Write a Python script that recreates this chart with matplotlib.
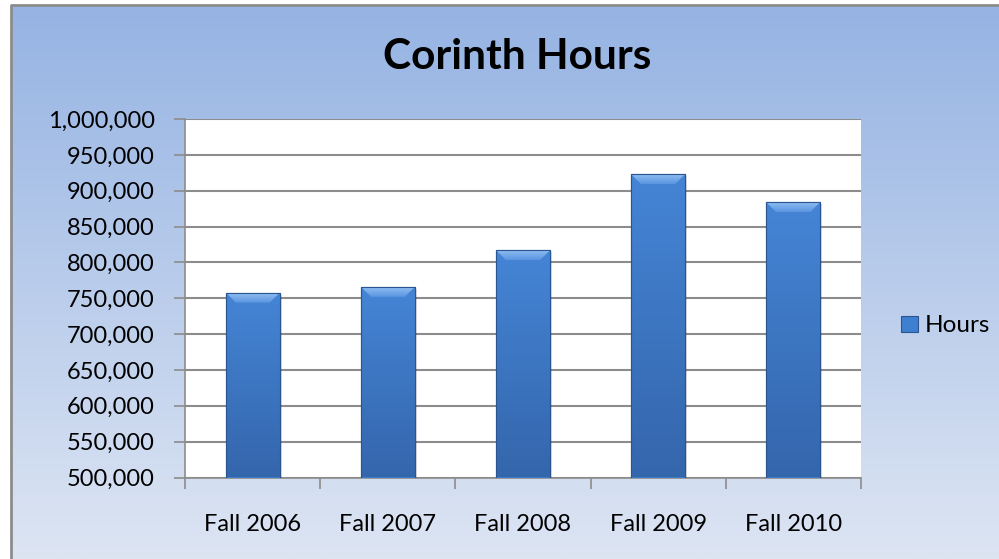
import matplotlib
matplotlib.use("Agg")
import matplotlib.pyplot as plt
import numpy as np
from matplotlib.patches import Polygon, Rectangle
from matplotlib.ticker import FuncFormatter, MultipleLocator
from matplotlib.colors import LinearSegmentedColormap

categories = ["Fall 2006", "Fall 2007", "Fall 2008", "Fall 2009", "Fall 2010"]
hours = [758000, 766000, 817000, 923000, 884000]
series_name = "Hours"
title = "Corinth Hours"
y_min, y_max, y_step = 500000, 1000000, 50000

W, H = 999, 559
fig = plt.figure(figsize=(W / 100, H / 100), dpi=100)
plt.rcParams['font.family'] = ['Lato', 'DejaVu Sans']

# background gradient panel with border
bg = fig.add_axes([0, 0, 1, 1], zorder=-10)
bg.set_axis_off()
bg.set_xlim(0, W)
bg.set_ylim(H, 0)
grad = np.linspace(0, 1, 256).reshape(-1, 1)
bg_cmap = LinearSegmentedColormap.from_list("bg", ["#95B3E3", "#DDE5F3"])
bg.imshow(grad, cmap=bg_cmap, extent=[11, W, H, 5], aspect="auto", zorder=0)
bg.plot([11, 11, W], [H, 5, 5], color="#8C8C8C", lw=2, zorder=1)

# plot area
ax = fig.add_axes([185.3 / W, 1 - 477.5 / H, (860.7 - 185.3) / W, (477.5 - 119) / H])
ax.set_facecolor("white")
x = np.arange(len(categories))
bars = ax.bar(x, hours, width=0.4, bottom=0, color="#3F7FCF", edgecolor="#2A5590",
              linewidth=0.8, zorder=3)
ax.set_xlim(-0.5, len(categories) - 0.5)
ax.set_ylim(y_min, y_max)

# bar gradients and bevel
bar_cmap = LinearSegmentedColormap.from_list("bar", ["#4585D6", "#3466AC"])
bevel_cmap = LinearSegmentedColormap.from_list("bevel", ["#8FBDF2", "#5A95E0"])
px_y = (y_max - y_min) / (477.5 - 119)
px_x = len(categories) / (860.7 - 185.3)
for b in bars:
    x0, w, top = b.get_x(), b.get_width(), b.get_height()
    # subtle shadow
    ax.add_patch(Rectangle((x0 + 2 * px_x, y_min), w, top - y_min - 2 * px_y,
                           facecolor="#000000", alpha=0.12, edgecolor="none", zorder=2.9))
    im = ax.imshow(grad, cmap=bar_cmap, extent=[x0, x0 + w, y_min, top],
                   aspect="auto", zorder=3.5)
    im.set_clip_path(b)
    bh = 10 * px_y
    inset = 10 * px_x
    bevel = Polygon([[x0, top], [x0 + w, top], [x0 + w - inset, top - bh],
                     [x0 + inset, top - bh]], closed=True, facecolor="none",
                    edgecolor="none", zorder=4)
    ax.add_patch(bevel)
    bim = ax.imshow(grad, cmap=bevel_cmap, extent=[x0, x0 + w, top - bh, top],
                    aspect="auto", zorder=4)
    bim.set_clip_path(bevel)
    ax.add_patch(Rectangle((x0, y_min), w, top - y_min, fill=False,
                           edgecolor="#2A5590", lw=0.8, zorder=4.5))

ax.set_autoscale_on(False)
ax.set_xlim(-0.5, len(categories) - 0.5)
ax.set_ylim(y_min, y_max)

ax.yaxis.set_major_locator(MultipleLocator(y_step))
ax.yaxis.set_major_formatter(FuncFormatter(lambda v, p: f"{int(v):,}"))
ax.grid(axis="y", color="#8C8C8C", lw=1.5, zorder=1)
ax.set_axisbelow(True)

ax.set_xticks(x)
ax.set_xticklabels(categories)
ax.set_xticks(np.arange(-0.5, len(categories)), minor=True)
ax.tick_params(axis="x", which="major", length=0, pad=26, labelsize=17, colors="black")
ax.tick_params(axis="x", which="minor", length=8, width=1.2, color="#8C8C8C", direction="out")
ax.tick_params(axis="y", which="major", length=8, width=1.2, color="#8C8C8C", direction="out",
               pad=14, labelsize=17, labelcolor="black")

for s in ["top", "right"]:
    ax.spines[s].set_visible(False)
for s in ["left", "bottom"]:
    ax.spines[s].set_color("#8C8C8C")
    ax.spines[s].set_linewidth(1.2)

fig.text(517 / W, 1 - 57 / H, title, ha="center", va="center", fontsize=30.5,
         fontweight="bold", color="black")

# legend
handle = Rectangle((0, 0), 1, 1, facecolor="#3F7FCF", edgecolor="#2A5590", lw=0.8)
fig.legend([handle], [series_name], loc="center left",
           bbox_to_anchor=(901 / W, 1 - 326 / H), frameon=False, fontsize=17.5,
           handlelength=0.68, handleheight=0.65, handletextpad=0.28, borderpad=0,
           borderaxespad=0)

fig.savefig("out.png", dpi=100)
